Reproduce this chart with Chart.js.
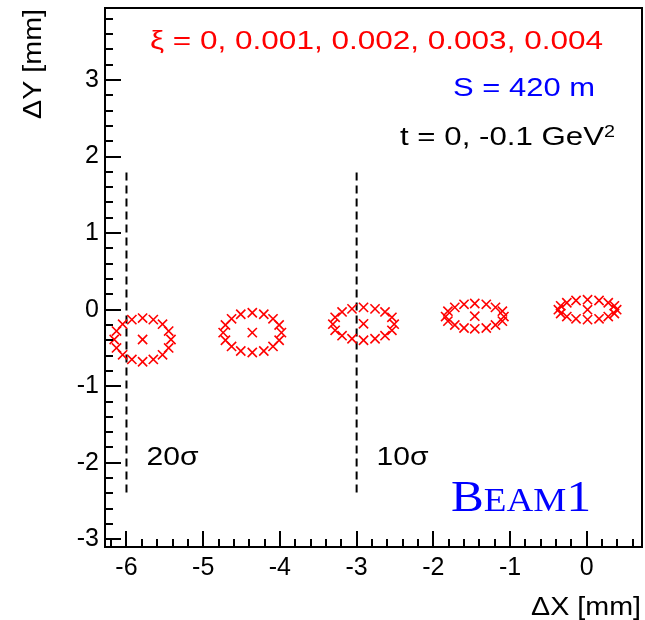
<!DOCTYPE html>
<html>
<head>
<meta charset="utf-8">
<script src="https://cdn.jsdelivr.net/npm/chart.js@4.4.1/dist/chart.umd.min.js"></script>
<style>
  html, body { margin: 0; padding: 0; background: #fff; }
  canvas { display: block; }
</style>
</head>
<body>
<canvas id="beamChart" width="645" height="620"></canvas>
<script>
// beam spot at S = 420 m, one ring (t = -0.1) plus centre (t = 0) per xi value
const xiValues = [0, 0.001, 0.002, 0.003, 0.004];

const centerX = [0.01, -1.46, -2.91, -4.36, -5.79];
const centerY = [0.0, -0.085, -0.185, -0.30, -0.39];

const ringX_xi0 = [0.39, 0.36, 0.28, 0.16, 0.01, -0.14, -0.26, -0.34, -0.37, -0.34, -0.26, -0.14, 0.01, 0.16, 0.28, 0.36];
const ringY_xi0 = [0.00, 0.05, 0.09, 0.12, 0.13, 0.12, 0.09, 0.05, 0.00, -0.05, -0.09, -0.12, -0.13, -0.12, -0.09, -0.05];

const ringX_xi1 = [-1.08, -1.10, -1.19, -1.31, -1.46, -1.60, -1.72, -1.81, -1.84, -1.81, -1.72, -1.60, -1.46, -1.31, -1.19, -1.10];
const ringY_xi1 = [-0.09, -0.02, 0.03, 0.07, 0.08, 0.07, 0.03, -0.02, -0.09, -0.15, -0.20, -0.24, -0.25, -0.24, -0.20, -0.15];

const ringX_xi2 = [-2.51, -2.54, -2.63, -2.76, -2.91, -3.06, -3.19, -3.28, -3.31, -3.28, -3.19, -3.06, -2.91, -2.76, -2.63, -2.54];
const ringY_xi2 = [-0.19, -0.10, -0.03, 0.01, 0.03, 0.01, -0.03, -0.10, -0.19, -0.27, -0.34, -0.38, -0.40, -0.38, -0.34, -0.27];

const ringX_xi3 = [-3.98, -4.01, -4.09, -4.21, -4.36, -4.51, -4.63, -4.71, -4.74, -4.71, -4.63, -4.51, -4.36, -4.21, -4.09, -4.01];
const ringY_xi3 = [-0.30, -0.20, -0.12, -0.06, -0.04, -0.06, -0.12, -0.20, -0.30, -0.40, -0.48, -0.54, -0.56, -0.54, -0.48, -0.40];

const ringX_xi4 = [-5.42, -5.45, -5.53, -5.65, -5.79, -5.93, -6.05, -6.13, -6.16, -6.13, -6.05, -5.93, -5.79, -5.65, -5.53, -5.45];
const ringY_xi4 = [-0.39, -0.28, -0.19, -0.13, -0.11, -0.13, -0.19, -0.28, -0.39, -0.50, -0.59, -0.65, -0.68, -0.65, -0.59, -0.50];

// 20 sigma and 10 sigma acceptance lines
const sigmaX = [-6, -3];
const sigmaLabels = ["20σ", "10σ"];
const sigmaYTop = 1.79;
const sigmaYBottom = -2.41;

const xTicks = [-6, -5, -4, -3, -2, -1, 0];
const yTicks = [-3, -2, -1, 0, 1, 2, 3];
const X_MIN = -6.28, X_MAX = 0.72;
const Y_MIN = -3.1, Y_MAX = 3.94;

const ringsX = [ringX_xi0, ringX_xi1, ringX_xi2, ringX_xi3, ringX_xi4];
const ringsY = [ringY_xi0, ringY_xi1, ringY_xi2, ringY_xi3, ringY_xi4];

const datasets = [];

ringsX.forEach(function (xs, i) {
  const pts = xs.map(function (x, k) { return { x: x, y: ringsY[i][k] }; });
  pts.push({ x: centerX[i], y: centerY[i] });
  datasets.push({
    label: "xi = " + xiValues[i],
    data: pts,
    showLine: false,
    pointStyle: "crossRot",
    pointRadius: 6.5,
    pointBorderWidth: 1.6,
    pointBorderColor: "#ff0000",
    pointBackgroundColor: "#ff0000"
  });
});

sigmaX.forEach(function (x) {
  datasets.push({
    label: "cut",
    data: [{ x: x, y: sigmaYTop }, { x: x, y: sigmaYBottom }],
    showLine: true,
    borderColor: "#000",
    borderWidth: 2,
    borderDash: [8, 5],
    pointRadius: 0
  });
});

// draw text squeezed/stretched to the width it has in the picture
function fitText(ctx, str, x, y, width, font, color, align) {
  ctx.save();
  ctx.font = font;
  const w = ctx.measureText(str).width;
  ctx.translate(x, y);
  ctx.scale(width / w, 1);
  ctx.fillStyle = color;
  ctx.textAlign = align || "left";
  ctx.textBaseline = "alphabetic";
  ctx.fillText(str, 0, 0);
  ctx.restore();
}

function noPadding(scale) {
  scale.paddingTop = 0;
  scale.paddingBottom = 0;
  scale.paddingLeft = 0;
  scale.paddingRight = 0;
}

const rootFrame = {
  id: "rootFrame",
  afterDraw(chart) {
    const ctx = chart.ctx;
    const a = chart.chartArea;
    const xs = chart.scales.x;
    const ys = chart.scales.y;

    ctx.save();
    ctx.strokeStyle = "#000";
    ctx.lineWidth = 2;
    ctx.strokeRect(a.left, a.top, a.right - a.left, a.bottom - a.top);

    // inward ticks, ROOT style
    ctx.beginPath();
    for (let i = Math.ceil(X_MIN * 5); i <= Math.floor(X_MAX * 5); i++) {
      const px = Math.round(xs.getPixelForValue(i / 5));
      const len = i % 5 === 0 ? 16 : 8;
      ctx.moveTo(px, a.bottom);
      ctx.lineTo(px, a.bottom - len);
    }
    for (let i = Math.ceil(Y_MIN * 5); i <= Math.floor(Y_MAX * 5); i++) {
      const py = Math.round(ys.getPixelForValue(i / 5));
      const len = i % 5 === 0 ? 16 : 8;
      ctx.moveTo(a.left, py);
      ctx.lineTo(a.left + len, py);
    }
    ctx.stroke();
    ctx.restore();

    // axis titles
    const sans = "25px 'Liberation Sans'";
    fitText(ctx, "ΔX [mm]", 641, 615, 110, sans, "#000", "right");
    ctx.save();
    ctx.translate(41, 9);
    ctx.rotate(-Math.PI / 2);
    fitText(ctx, "ΔY [mm]", 0, 0, 110, sans, "#000", "right");
    ctx.restore();

    // annotations
    fitText(ctx, "ξ = " + xiValues.join(", "), 150, 49, 453, sans, "#ff0000");
    fitText(ctx, "S = 420 m", 453, 96, 142, sans, "#0000ff");
    fitText(ctx, "t = 0, -0.1 GeV", 400, 145, 204, sans, "#000");
    fitText(ctx, "2", 604, 137, 11, "16px 'Liberation Sans'", "#000");

    sigmaX.forEach(function (x, i) {
      const px = xs.getPixelForValue(x);
      fitText(ctx, sigmaLabels[i], px + 20, 465, 52, "26px 'Liberation Sans'", "#000");
    });

    // "Beam1" in small caps
    ctx.save();
    ctx.fillStyle = "#0000ff";
    ctx.textBaseline = "alphabetic";
    const parts = [["B", 45], ["EAM", 34], ["1", 45]];
    let total = 0;
    parts.forEach(function (p) {
      ctx.font = p[1] + "px 'Liberation Serif'";
      total += ctx.measureText(p[0]).width;
    });
    ctx.translate(451, 511);
    ctx.scale(140 / total, 1);
    let cx = 0;
    parts.forEach(function (p) {
      ctx.font = p[1] + "px 'Liberation Serif'";
      ctx.fillText(p[0], cx, 0);
      cx += ctx.measureText(p[0]).width;
    });
    ctx.restore();
  }
};

new Chart(document.getElementById("beamChart"), {
  type: "scatter",
  data: { datasets: datasets },
  options: {
    responsive: false,
    animation: false,
    devicePixelRatio: 1,
    layout: { autoPadding: false, padding: { top: 8, right: 3, left: 0, bottom: 0 } },
    plugins: {
      legend: { display: false },
      tooltip: { enabled: false }
    },
    scales: {
      x: {
        type: "linear",
        min: X_MIN,
        max: X_MAX,
        grid: { display: false, drawTicks: false },
        border: { display: false },
        afterFit(scale) { scale.height = 73; noPadding(scale); },
        afterBuildTicks(scale) { scale.ticks = xTicks.map(function (v) { return { value: v }; }); },
        ticks: {
          padding: 6,
          color: "#000",
          maxRotation: 0,
          font: { family: "Liberation Sans", size: 25 },
          callback: function (v) { return String(v); }
        }
      },
      y: {
        type: "linear",
        min: Y_MIN,
        max: Y_MAX,
        grid: { display: false, drawTicks: false },
        border: { display: false },
        afterFit(scale) { scale.width = 105; noPadding(scale); },
        afterBuildTicks(scale) { scale.ticks = yTicks.map(function (v) { return { value: v }; }); },
        ticks: {
          padding: 6,
          color: "#000",
          font: { family: "Liberation Sans", size: 25 },
          callback: function (v) { return String(v); }
        }
      }
    }
  },
  plugins: [rootFrame]
});
</script>
</body>
</html>
